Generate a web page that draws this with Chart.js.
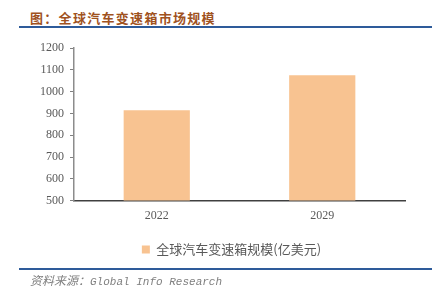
<!DOCTYPE html>
<html>
<head>
<meta charset="utf-8">
<script src="https://cdn.jsdelivr.net/npm/chart.js@4"></script>
<style>
  html, body { margin: 0; padding: 0; background: #fff; }
  #wrap { position: relative; width: 438px; height: 294px; overflow: hidden; }
  #title {
    position: absolute; left: 30px; top: 8px;
    font: bold 13px "Noto Sans CJK SC", sans-serif; letter-spacing: 1.3px;
    color: #a0521e; white-space: nowrap;
  }
  .rule { position: absolute; left: 19px; width: 413px; height: 2px; background: #2e5b9a; }
  #source {
    position: absolute; left: 30px; top: 271px; white-space: nowrap;
    color: #7f7f7f; font-style: italic;
  }
  #source .cn { font: italic 12px "Noto Sans CJK SC", sans-serif; }
  #source .en { font: italic 11px "Liberation Mono", monospace; }
  #box { position: absolute; left: 0; top: 30px; width: 438px; height: 242px; }
</style>
</head>
<body>
<div id="wrap">
  <div id="title">图：全球汽车变速箱市场规模</div>
  <div class="rule" style="top:26px"></div>
  <div id="box"><canvas id="c"></canvas></div>
  <div class="rule" style="top:268px"></div>
  <div id="source"><span class="cn">资料来源：</span><span class="en">Global Info Research</span></div>
</div>
<script>
const years = ['2022', '2029'];
const marketSize = [915, 1075];
const seriesName = '全球汽车变速箱规模(亿美元)';

// the original legend sits a bit right of centre
const legendShift = {
  id: 'legendShift',
  afterLayout(chart) {
    chart.legend.left += 29;
    chart.legend.right += 29;
  }
};

new Chart(document.getElementById('c'), {
  type: 'bar',
  data: {
    labels: years,
    datasets: [{
      label: seriesName,
      data: marketSize,
      backgroundColor: '#f8c391',
      categoryPercentage: 1,
      barPercentage: 0.4
    }]
  },
  options: {
    responsive: true,
    maintainAspectRatio: false,
    animation: false,
    layout: { padding: { left: 0, right: 33, top: 18, bottom: 6 } },
    plugins: {
      legend: {
        position: 'bottom',
        labels: {
          boxWidth: 8, boxHeight: 8, padding: 12,
          color: '#595959',
          font: { family: '"Noto Sans CJK SC", sans-serif', size: 13 }
        }
      },
      tooltip: { enabled: false }
    },
    scales: {
      x: {
        grid: { display: false, drawTicks: false },
        border: { color: '#404040', width: 1.5 },
        ticks: { color: '#595959', padding: 8, font: { family: '"Liberation Serif", serif', size: 12 } }
      },
      y: {
        min: 500, max: 1200,
        afterFit: s => { s.width = 74; },
        grid: { drawOnChartArea: false, drawTicks: true, tickLength: 4, color: '#808080' },
        border: { color: '#8c8c8c', width: 1.5 },
        ticks: {
          stepSize: 100, color: '#595959', padding: 6,
          font: { family: '"Liberation Serif", serif', size: 12 },
          callback: v => String(v)
        }
      }
    }
  },
  plugins: [legendShift]
});
</script>
</body>
</html>
